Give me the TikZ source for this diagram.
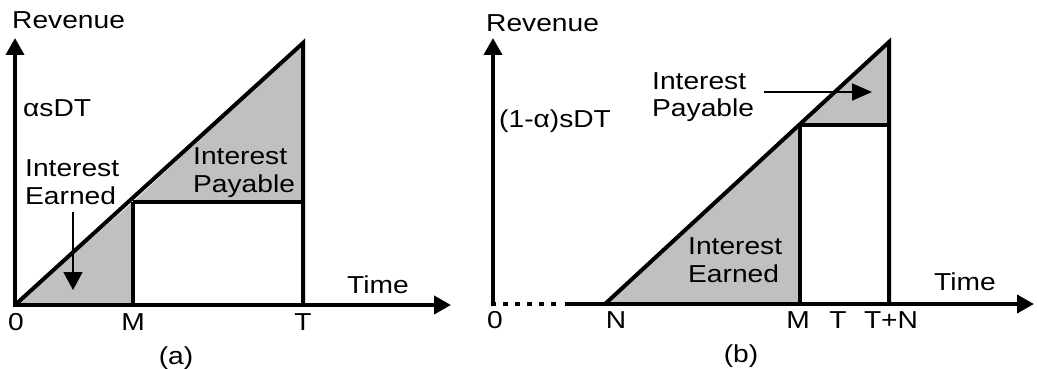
\documentclass[tikz,border=0pt]{standalone}
\usepackage{fontspec}
\setmainfont{Liberation Sans}[FakeStretch=1.15]
\usetikzlibrary{arrows.meta}
\definecolor{shade}{RGB}{192,192,192}
\tikzset{
  lbl/.style={inner sep=0pt, font=\fontsize{24.5}{28}\selectfont},
  thick line/.style={line width=4pt},
  axis/.style={line width=4pt, -{Triangle[length=17pt,width=18pt]}},
  pointer/.style={line width=1.8pt, -{Triangle[length=18pt,width=19pt]}},
  region/.style={fill=shade, draw=none},
}
\begin{document}
\begin{tikzpicture}[x=1pt,y=-1pt]
\useasboundingbox (0,0) rectangle (1037,369);

% ---------- panel (a) ----------
\coordinate (aO) at (15,305);
\coordinate (aM) at (133,305);
\coordinate (aMd) at (133,202);
\coordinate (aT) at (303,305);
\coordinate (aTd) at (303,202);
\coordinate (aTop) at (303,43);
\coordinate (aYtip) at (15,38);
\coordinate (aXtip) at (451,305);

\fill[region] (aO) -- (aM) -- (aMd) -- cycle;
\fill[region] (aMd) -- (aTd) -- (aTop) -- cycle;

\draw[thick line] (aMd) -- (aM);
\draw[thick line] (aMd) -- (aTd);
\draw[thick line, line join=miter] (aT) -- (aTop) -- (aO);
\draw[axis] (aO) -- (aYtip);
\draw[axis] ([xshift=-2pt]aO) -- (aXtip);

\node[lbl, anchor=base west] (aRev) at (12,29) {Revenue};
\node[lbl, anchor=base west] (aLev) at (23,117) {αsDT};
\node[lbl, anchor=base west, align=left] (aEarn) at (25,204) {Interest\\Earned};
\node[lbl, anchor=base west, align=left] (aPay) at (193,192) {Interest\\Payable};
\node[lbl, anchor=base west] (aTime) at (347,293) {Time};
\node[lbl, anchor=base] (a0) at (16,330) {0};
\node[lbl, anchor=base] (aMl) at (133,330) {M};
\node[lbl, anchor=base] (aTl) at (303,330) {T};
\node[lbl, anchor=base] (aCap) at (176,364) {(a)};

\coordinate (aArrEnd) at (73,290);
\draw[pointer] ([yshift=-8pt]aEarn.south -| aArrEnd) -- (aArrEnd);

% ---------- panel (b) ----------
\coordinate (bO) at (493,304);
\coordinate (bDotEnd) at (557,304);
\coordinate (bSolid) at (565,304);
\coordinate (bN) at (605,304);
\coordinate (bM) at (800,304);
\coordinate (bMd) at (800,125);
\coordinate (bTN) at (889,304);
\coordinate (bTNd) at (889,125);
\coordinate (bTop) at (889,42);
\coordinate (bYtip) at (493,38);
\coordinate (bXtip) at (1034,304);

\fill[region] (bN) -- (bM) -- (bMd) -- cycle;
\fill[region] (bMd) -- (bTNd) -- (bTop) -- cycle;

\draw[thick line] (bMd) -- (bM);
\draw[thick line] (bMd) -- (bTNd);
\draw[thick line, line join=miter] (bTN) -- (bTop) -- (bN);
\draw[axis] (bO) -- (bYtip);
\draw[line width=4pt, dash pattern=on 5pt off 7pt] ([xshift=-2pt]bO) -- (bDotEnd);
\draw[axis] (bSolid) -- (bXtip);

\node[lbl, anchor=base west] (bRev) at (486,32) {Revenue};
\node[lbl, anchor=base west] (bLev) at (499,128) {(1-α)sDT};
\node[lbl, anchor=base west, align=left] (bPay) at (652,117) {Interest\\Payable};
\node[lbl, anchor=base west, align=left] (bEarn) at (688,282) {Interest\\Earned};
\node[lbl, anchor=base west] (bTime) at (934,290) {Time};
\node[lbl, anchor=base] (b0) at (495,328) {0};
\node[lbl, anchor=base] (bNl) at (616,328) {N};
\node[lbl, anchor=base] (bMl) at (798,328) {M};
\node[lbl, anchor=base] (bTl) at (838,328) {T};
\node[lbl, anchor=base] (bTNl) at (891,328) {T+N};
\node[lbl, anchor=base] (bCap) at (741,362) {(b)};

\coordinate (bArrEnd) at (872,92);
\draw[pointer, -{Triangle[length=20pt,width=17pt]}] (bPay.north east |- bArrEnd) ++(10,0) -- (bArrEnd);
\end{tikzpicture}
\end{document}
